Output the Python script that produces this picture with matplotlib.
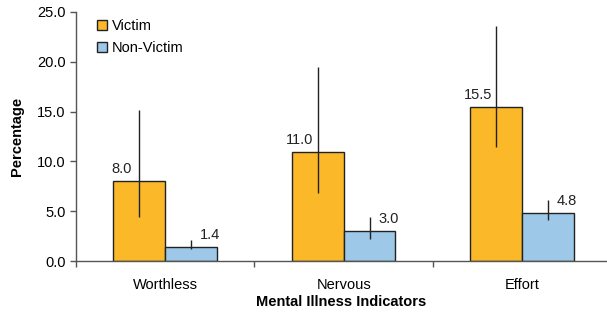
import matplotlib

matplotlib.use("Agg")
import matplotlib.pyplot as plt
import numpy as np

plt.rcParams["font.family"] = ["Liberation Sans", "DejaVu Sans"]

# data
categories = ["Worthless", "Nervous", "Effort"]
victim = [8.0, 11.0, 15.5]
non_victim = [1.4, 3.0, 4.8]
victim_lo = [4.45, 6.85, 11.5]
victim_hi = [15.15, 19.45, 23.6]
non_victim_lo = [1.2, 2.2, 4.1]
non_victim_hi = [2.1, 4.45, 6.1]
yticks = [0, 5, 10, 15, 20, 25]

fs = 10.5

fig = plt.figure(figsize=(6.07, 3.15), dpi=100)
ax = fig.add_axes([0.125, 0.171, 0.875, 0.791])

x = np.arange(len(categories))
width = 0.29
victim_col = "#FBB829"
non_col = "#9DC8E8"

v = np.array(victim)
n = np.array(non_victim)
v_err = [v - np.array(victim_lo), np.array(victim_hi) - v]
n_err = [n - np.array(non_victim_lo), np.array(non_victim_hi) - n]

ax.bar(x - width / 2, victim, width, color=victim_col, edgecolor="#222222",
       linewidth=1, label="Victim", zorder=2)
ax.bar(x + width / 2, non_victim, width, color=non_col, edgecolor="#222222",
       linewidth=1, label="Non-Victim", zorder=2)
ax.errorbar(x - width / 2, victim, yerr=v_err, fmt="none", ecolor="#222222",
            elinewidth=1, capsize=0, zorder=3)
ax.errorbar(x + width / 2, non_victim, yerr=n_err, fmt="none", ecolor="#222222",
            elinewidth=1, capsize=0, zorder=3)

# value labels
for xi, val in zip(x - width / 2, victim):
    ax.annotate(f"{val:.1f}", (xi, val), xytext=(-18, 5), textcoords="offset pixels",
                ha="center", va="bottom", fontsize=fs, color="#222222")
for xi, val in zip(x + width / 2, non_victim):
    ax.annotate(f"{val:.1f}", (xi, val), xytext=(19, 5), textcoords="offset pixels",
                ha="center", va="bottom", fontsize=fs, color="#222222")

ax.set_ylim(0, 25)
ax.set_xlim(-0.5, 2.475)
ax.set_yticks(yticks)
ax.set_yticklabels([f"{t:.1f}" for t in yticks], fontsize=fs)
ax.set_xticks(x)
ax.set_xticklabels(categories, fontsize=fs)
ax.tick_params(axis="x", length=0, pad=12)
ax.tick_params(axis="y", length=4, width=1, color="#555555")
ax.set_xticks([-0.5, 0.5, 1.5], minor=True)
ax.tick_params(axis="x", which="minor", length=4, width=1, color="#555555")

for s in ["top", "right"]:
    ax.spines[s].set_visible(False)
for s in ["left", "bottom"]:
    ax.spines[s].set_color("#555555")
    ax.spines[s].set_linewidth(1)

ax.set_ylabel("Percentage", fontsize=fs, fontweight="bold", labelpad=9)
ax.set_xlabel("Mental Illness Indicators", fontsize=fs, fontweight="bold", labelpad=2)

ax.legend(loc="upper left", bbox_to_anchor=(0.015, 1.025), frameon=False,
          fontsize=fs, handlelength=0.7, handleheight=0.7, handletextpad=0.3,
          labelspacing=0.55)

fig.savefig("out.png", dpi=100)
